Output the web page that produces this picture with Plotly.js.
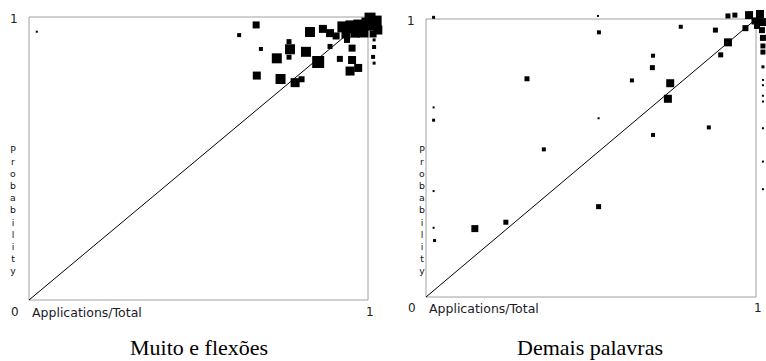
<!DOCTYPE html>
<html>
<head>
<meta charset="utf-8">
<script src="https://cdn.plot.ly/plotly-3.0.1.min.js"></script>
<style>html,body{margin:0;padding:0;background:#fff;}#chart{width:766px;height:361px;}</style>
</head>
<body>
<div id="chart"></div>
<script>
// ---- Data ----
var panelTitles = ["Muito e flexões", "Demais palavras"];
var xAxisLabel = "Applications/Total";
var yAxisLabel = "Probability";
var tickLow = "0";
var tickHigh = "1";
var diagonal = [0, 1];

// Left panel: Muito e flexões
var leftX = [0.023,0.620,0.670,0.684,0.767,0.770,0.767,0.731,0.672,0.742,0.785,0.804,0.817,0.853,0.829,0.867,0.888,0.906,0.888,0.938,0.953,0.917,0.953,0.947,0.971,
             0.926,0.953,0.976,1.000,1.021,1.029,1.015,0.985,0.935,0.962,1.006,
             1.018,1.018,1.015,1.018,1.015];
var leftY = [0.948,0.936,0.972,0.887,0.913,0.886,0.858,0.854,0.793,0.781,0.768,0.780,0.877,0.841,0.947,0.958,0.943,0.933,0.896,0.919,0.890,0.852,0.848,0.809,0.820,
             0.965,0.965,0.968,0.975,0.982,0.954,0.940,0.947,0.940,0.943,0.996,
             0.919,0.894,0.859,0.837,0.936];
var leftFreq = [2,4,7,4,5,10,5,10,8,10,9,6,10,12,10,8,8,7,5,6,7,6,8,9,8,
                11,13,13,13,13,9,7,11,9,9,11,
                3,4,4,3,3];

// Right panel: Demais palavras
var rightX = [0.023,0.521,0.524,0.772,0.877,0.915,0.893,0.968,0.688,0.686,0.306,0.624,0.740,0.733,0.023,0.023,0.523,0.857,0.688,0.357,0.023,0.523,0.023,0.148,0.242,0.026,
              1.021,1.021,1.021,1.021,1.021,1.021,1.021,1.021,
              0.915,0.936,0.979,0.997,1.012,1.018,1.018,1.021,1.021,1.021,1.003];
var rightY = [1.006,1.011,0.952,0.972,0.960,0.916,0.871,0.967,0.868,0.825,0.785,0.779,0.769,0.713,0.682,0.636,0.643,0.610,0.583,0.531,0.381,0.325,0.249,0.246,0.269,0.203,
              0.828,0.781,0.762,0.724,0.703,0.607,0.487,0.388,
              1.011,1.014,1.014,0.993,1.018,0.989,0.960,0.932,0.903,0.881,0.975];
var rightFreq = [3,2,4,4,5,8,5,6,4,5,5,4,8,8,2,3,2,4,4,4,2,5,2,7,5,3,
                 3,2,2,2,2,2,2,2,
                 5,5,8,7,8,8,6,6,5,5,6];

// ---- Layout helpers ----
var W = 766, H = 361;
function px(x){ return x / W; }
function py(y){ return 1 - y / H; }

var panels = [
  {x0: 29, x1: 368, y0: 17, y1: 300, xr: [-0.03, 1.04], yr: [-0.03, 1.04], xs: leftX, ys: leftY, fs: leftFreq, ax: "", lblX: 13, labY: 312},
  {x0: 426, x1: 756, y0: 19, y1: 297, xr: [-0.02, 1.028], yr: [-0.03, 1.04], xs: rightX, ys: rightY, fs: rightFreq, ax: "2", lblX: 422, labY: 308}
];

var traces = [];
var layout = {
  width: W, height: H,
  margin: {l: 0, r: 0, t: 0, b: 0},
  paper_bgcolor: "#ffffff",
  plot_bgcolor: "rgba(0,0,0,0)",
  showlegend: false,
  annotations: [],
  shapes: []
};

var tickFont = {family: "DejaVu Sans", size: 12, color: "#222222"};
var labFont = {family: "DejaVu Sans", size: 12.5, color: "#1a1a2a"};

panels.forEach(function(p, i){
  var xa = "x" + p.ax, ya = "y" + p.ax;
  var w = p.x1 - p.x0, h = p.y1 - p.y0;
  traces.push({
    x: diagonal, y: diagonal, xaxis: xa, yaxis: ya,
    mode: "lines", line: {color: "#000000", width: 1}, hoverinfo: "skip", cliponaxis: false
  });
  traces.push({
    x: p.xs, y: p.ys, xaxis: xa, yaxis: ya,
    mode: "markers", cliponaxis: false,
    marker: {symbol: "square", color: "#000000", opacity: 1, size: p.fs, sizemode: "diameter", sizeref: 1, line: {width: 0}}
  });
  var axCommon = {
    showgrid: false, zeroline: false, showticklabels: false, ticks: "",
    showline: false, fixedrange: true
  };
  layout["xaxis" + p.ax] = Object.assign({}, axCommon, {range: p.xr,
    domain: [px(p.x0 + p.xr[0] * w), px(p.x0 + p.xr[1] * w)], anchor: ya});
  layout["yaxis" + p.ax] = Object.assign({}, axCommon, {range: p.yr,
    domain: [py(p.y1 - p.yr[0] * h), py(p.y1 - p.yr[1] * h)], anchor: xa});
  // plot frame at the 0..1 square
  layout.shapes.push({type: "rect", xref: xa, yref: ya, x0: 0, x1: 1, y0: 0, y1: 1,
    line: {color: "#a0a0a0", width: 1}, fillcolor: "rgba(0,0,0,0)", layer: "below"});

  // tick labels
  layout.annotations.push({xref: "paper", yref: "paper", x: px(p.x0 - 15), y: py(p.y0 + 2), text: tickHigh, showarrow: false, font: tickFont, xanchor: "center", yanchor: "middle"});
  layout.annotations.push({xref: "paper", yref: "paper", x: px(p.x0 - 14), y: py(p.labY), text: tickLow, showarrow: false, font: tickFont, xanchor: "center", yanchor: "middle"});
  layout.annotations.push({xref: "paper", yref: "paper", x: px(p.x1 + 2), y: py(p.labY), text: tickHigh, showarrow: false, font: tickFont, xanchor: "center", yanchor: "middle"});
  // x label
  layout.annotations.push({xref: "paper", yref: "paper", x: px(p.x0 + 1), y: py(p.labY), text: xAxisLabel, showarrow: false, font: labFont, xanchor: "left", yanchor: "middle"});
  // y label stacked letters
  layout.annotations.push({xref: "paper", yref: "paper", x: px(p.lblX), y: py(210), text: yAxisLabel.split("").join("<br>"), showarrow: false,
    font: {family: "DejaVu Sans", size: 9.3, color: "#111122"}, xanchor: "center", yanchor: "middle", align: "center", borderpad: 0});
  // panel title
  layout.annotations.push({xref: "paper", yref: "paper", x: px((p.x0 + p.x1) / 2 + (i === 0 ? 0 : -1)), y: py(347), text: panelTitles[i], showarrow: false,
    font: {family: "Liberation Serif", size: 22, color: "#000000"}, xanchor: "center", yanchor: "middle"});
});

Plotly.newPlot("chart", traces, layout, {staticPlot: true, displayModeBar: false});
</script>
</body>
</html>
